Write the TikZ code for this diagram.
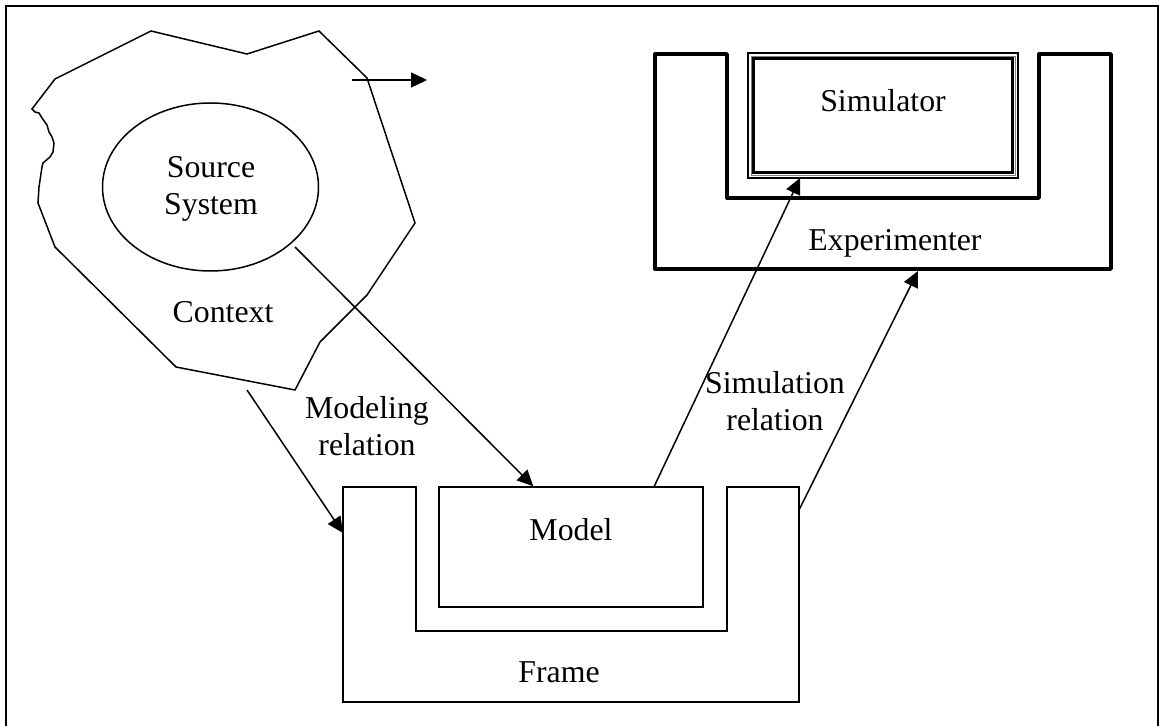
\documentclass[tikz,border=0pt]{standalone}
\usepackage{fontspec}
\setmainfont{Liberation Serif}
\usetikzlibrary{arrows.meta,calc,shapes.geometric}

\begin{document}
\begin{tikzpicture}[x=0.5pt,y=-0.5pt,
  thinline/.style={line width=0.75pt, line join=miter},
  heavyline/.style={line width=1.7pt, line join=round},
  lbl/.style={font=\fontsize{15.9}{18.3}\selectfont, align=center, inner sep=0pt},
  conn/.style={thinline, -{Triangle[length=8pt,width=7.5pt]}},
]
\useasboundingbox (0,0) rectangle (1160,726);

% page frame, open at the bottom
\draw[line width=1.1pt] (6,740) -- (6,6) -- (1158,6) -- (1158,740);

% ---- context outline ----
\draw[thinline] (55,79) -- (151,31) -- (247,54) -- (319,31) -- (367,78)
  -- (415,223) -- (367,295) -- (320,342) -- (295,390) -- (176,367)
  -- (55,247) -- (38,203) -- (39,187) -- (42,167) -- (43,163) -- (50,157)
  -- (53,152) -- (54,143) -- (52,137) -- (49,132) -- (47,125) -- (42,118)
  -- (39,113) -- (35,112) -- (32,109) -- cycle;
\coordinate (ctxout) at (352,80);
\coordinate (ctxoutend) at (427,80);
\draw[conn] (ctxout) -- (ctxoutend);

% source system
\node[draw, thinline, ellipse, minimum width=108pt, minimum height=84pt, inner sep=0pt]
  (src) at (210.5,187) {};
\node[lbl] (srctext) at (211,189) {Source\\System};
\node[lbl] (context) at (223,312) {Context};
\coordinate (srcout) at (295,247);

% ---- frame ----
\draw[thinline] (343,487) -- (416,487) -- (416,631) -- (727,631) -- (727,487)
  -- (799,487) -- (799,702) -- (343,702) -- cycle;
\node[lbl] (frame) at (559,672) {Frame};
\coordinate (frameleft) at (343,533);
\coordinate (frameright) at (799,510);

% model inside the frame
\node[draw, thinline, minimum width=132pt, minimum height=60pt, inner sep=0pt]
  (model) at (571,547) {};
\node[lbl] (modeltext) at (571,530) {Model};
\coordinate (modelin) at ($(model.north west)+(95,0)$);
\coordinate (modelout) at ($(model.north west)+(216,0)$);

% ---- experimenter ----
\draw[heavyline] (655,54) -- (727,54) -- (727,198) -- (1039,198) -- (1039,54)
  -- (1111,54) -- (1111,269) -- (655,269) -- cycle;
\node[lbl] (exptext) at (895,243.5) {Experimenter};
\coordinate (expin) at (918,271);

% simulator with its triple border
\draw[line width=1.1pt] (748,53) rectangle (1018,178);
\draw[line width=0.4pt, gray] (751,56) rectangle (1015,175);
\draw[line width=1.2pt] (753.5,58.5) rectangle (1012.5,172.5);
\node[lbl] (simtext) at (883,101) {Simulator};
\coordinate (simin) at (800,178);

% ---- relations ----
\draw[conn] (srcout) -- (modelin);
\coordinate (modrelstart) at (247,390);
\draw[conn] (modrelstart) -- (frameleft);
\node[lbl] (modrel) at (367,426) {Modeling\\relation};

\draw[conn] (modelout) -- (simin);
\draw[conn] (frameright) -- (expin);
\node[lbl] (simrel) at (775,401) {Simulation\\relation};
\end{tikzpicture}
\end{document}
